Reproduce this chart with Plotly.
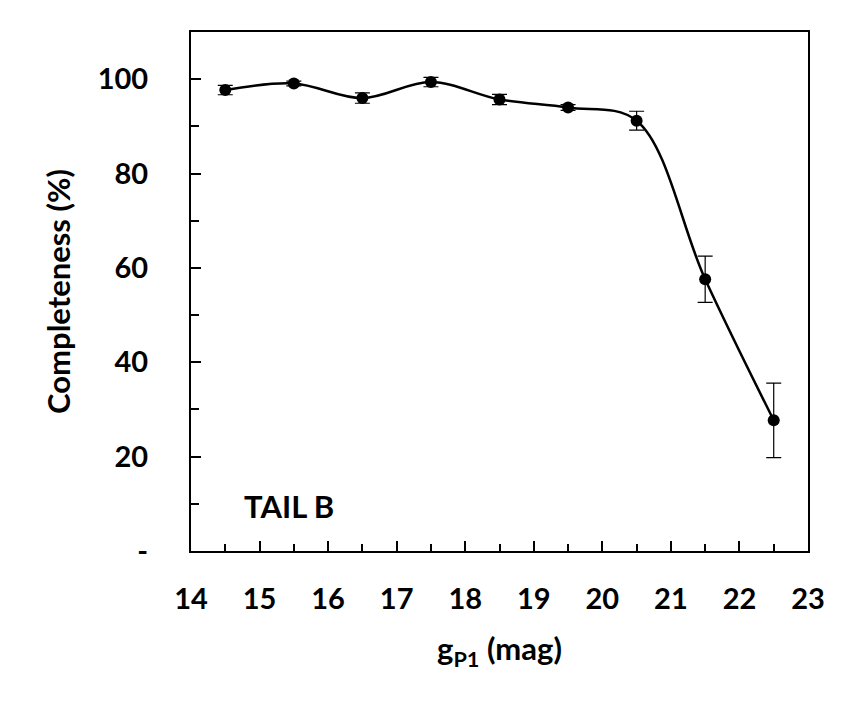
import plotly.graph_objects as go

# Data
mag = [14.5, 15.5, 16.5, 17.5, 18.5, 19.5, 20.5, 21.5, 22.5]
completeness = [97.7, 99.1, 96.0, 99.4, 95.7, 94.0, 91.2, 57.6, 27.7]
err = [1.0, 0.5, 1.1, 1.0, 1.1, 0.6, 2.0, 4.9, 7.9]

y_ticks = [0, 20, 40, 60, 80, 100]
y_ticktext = ["-", "20", "40", "60", "80", "100"]
x_ticks = list(range(14, 24))

font_family = "Lato, 'Open Sans', sans-serif"
tick_font = dict(family=font_family, size=29, color="black", weight="bold")
title_font = dict(family=font_family, size=31, color="black", weight="bold")

fig = go.Figure()

fig.add_trace(go.Scatter(
    x=mag,
    y=completeness,
    mode="lines+markers",
    line=dict(color="black", width=2.5, shape="spline", smoothing=1.0),
    marker=dict(color="black", size=12),
    error_y=dict(type="data", array=err, visible=True, color="black",
                 thickness=1.2, width=7.5),
    showlegend=False,
))

axis_common = dict(
    showline=True, linecolor="black", linewidth=2, mirror=True,
    showgrid=False, zeroline=False,
    ticks="inside", ticklen=10, tickwidth=1.5, tickcolor="black",
    tickfont=tick_font,
)

# page body has an 8px margin, so the figure is shifted by 8px
fig.update_layout(
    width=848, height=697,
    margin=dict(l=183, r=48, t=24, b=154),
    paper_bgcolor="white", plot_bgcolor="white",
    xaxis=dict(
        range=[14, 23], tickvals=x_ticks,
        minor=dict(dtick=0.5, ticks="inside", ticklen=7, tickwidth=1.5, tickcolor="black"),
        ticklabelstandoff=21,
        title=dict(text="g<sub>P1</sub> (mag)", standoff=25, font=title_font),
        **axis_common,
    ),
    yaxis=dict(
        range=[0, 110], tickvals=y_ticks, ticktext=y_ticktext,
        minor=dict(dtick=10, ticks="inside", ticklen=8, tickwidth=1.5, tickcolor="black"),
        ticklabelstandoff=35,
        title=dict(text="Completeness (%)", standoff=18, font=title_font),
        **axis_common,
    ),
    annotations=[dict(
        text="TAIL B", x=14.75, y=9.5, xref="x", yref="y",
        xanchor="left", yanchor="middle", showarrow=False,
        font=title_font,
    )],
)

fig.write_html("out.html")
